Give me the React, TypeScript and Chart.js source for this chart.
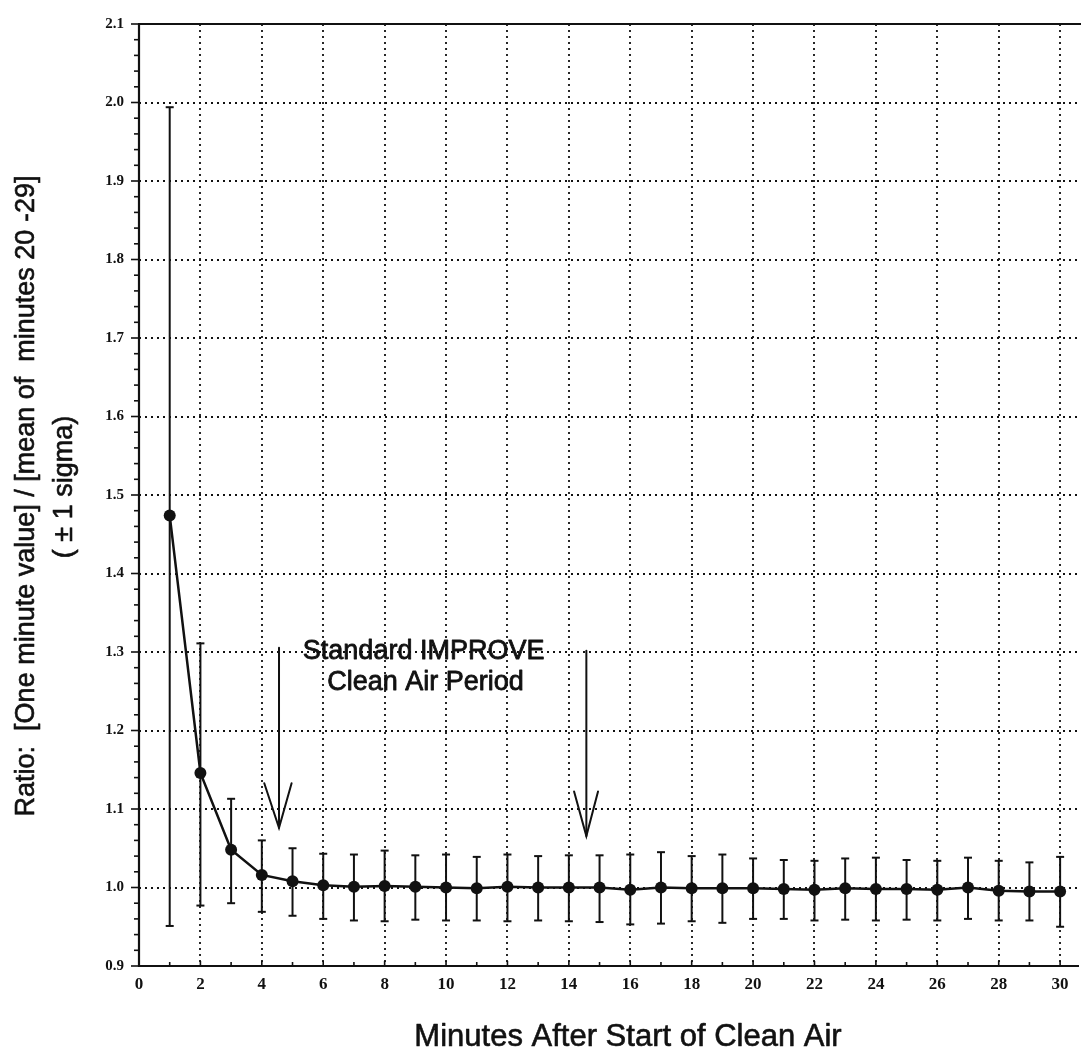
import React, { useEffect, useRef } from 'react';
import { Chart, registerables } from 'chart.js';

Chart.register(...registerables);

// ---------- data ----------
const minutes = [1, 2, 3, 4, 5, 6, 7, 8, 9, 10, 11, 12, 13, 14, 15, 16, 17, 18, 19, 20, 21, 22, 23, 24, 25, 26, 27, 28, 29, 30];
const ratioMean = [1.474, 1.146, 1.048, 1.016, 1.008, 1.003, 1.001, 1.002, 1.001, 1.0, 0.999, 1.001, 1.0, 1.0, 1.0, 0.997, 1.0, 0.999, 0.999, 0.999, 0.998, 0.997, 0.999, 0.998, 0.998, 0.997, 1.0, 0.996, 0.995, 0.995];
const sigmaUpper = [1.994, 1.311, 1.113, 1.06, 1.05, 1.043, 1.042, 1.047, 1.041, 1.042, 1.039, 1.042, 1.04, 1.041, 1.041, 1.042, 1.045, 1.04, 1.042, 1.037, 1.035, 1.034, 1.037, 1.038, 1.035, 1.034, 1.038, 1.034, 1.032, 1.039];
const sigmaLower = [0.951, 0.977, 0.98, 0.969, 0.964, 0.96, 0.958, 0.957, 0.959, 0.958, 0.958, 0.957, 0.958, 0.957, 0.956, 0.953, 0.954, 0.957, 0.955, 0.96, 0.96, 0.958, 0.959, 0.958, 0.959, 0.958, 0.96, 0.958, 0.958, 0.95];

const xTickValues = [0, 2, 4, 6, 8, 10, 12, 14, 16, 18, 20, 22, 24, 26, 28, 30];
const yTickValues = [0.9, 1.0, 1.1, 1.2, 1.3, 1.4, 1.5, 1.6, 1.7, 1.8, 1.9, 2.0, 2.1];

const xTitle = 'Minutes After Start of Clean Air';
const yTitleLines = ['Ratio:  [One minute value] / [mean of  minutes 20 -29]', '( \u00B1 1 sigma)'];
const noteLines = ['Standard IMPROVE', 'Clean Air Period'];

// annotation geometry (data coordinates)
const arrows = [
  { x: 4.56, top: 1.3055, tip: 1.076, wingY: 1.1328, wingL: 4.08, wingR: 4.97 },
  { x: 14.57, top: 1.3017, tip: 1.0655, wingY: 1.1223, wingL: 14.17, wingR: 14.95 },
];
const notePos = [
  { x: 9.27, y: 1.2907 },
  { x: 9.33, y: 1.2512 },
];

const X_MIN = 0;
const X_MAX = 30.68;
const Y_MIN = 0.9;
const Y_MAX = 2.1;

const INK = '#111111';
const SANS = '"Liberation Sans", Arial, Helvetica, sans-serif';
const SERIF = '"Liberation Serif", "Times New Roman", Times, serif';

const heavyText = (ctx: any, t: string, px: number, py: number) => {
  ctx.fillText(t, px, py);
  ctx.strokeText(t, px, py);
};

const paperPlugin = {
  id: 'paperPlugin',
  beforeDatasetsDraw(chart: any) {
    const { ctx, chartArea: a, scales } = chart;
    const x = scales.x;
    const y = scales.y;
    const seg = (x1: number, y1: number, x2: number, y2: number) => {
      ctx.beginPath();
      ctx.moveTo(x1, y1);
      ctx.lineTo(x2, y2);
      ctx.stroke();
    };
    ctx.save();
    // dotted grid
    ctx.strokeStyle = INK;
    ctx.lineWidth = 1.8;
    ctx.setLineDash([2, 4]);
    for (const v of yTickValues) {
      if (v <= Y_MIN + 1e-9 || v >= Y_MAX - 1e-9) continue;
      const py = Math.round(y.getPixelForValue(v));
      seg(a.left, py, a.right, py);
    }
    for (const v of xTickValues) {
      if (v <= X_MIN) continue;
      const px = Math.round(x.getPixelForValue(v));
      seg(px, a.top, px, a.bottom);
    }
    ctx.setLineDash([]);
    // axes
    ctx.lineWidth = 2.2;
    seg(a.left, a.top, a.left, a.bottom + 1);
    seg(a.left - 1, a.bottom, a.right - 2, a.bottom);
    seg(a.left - 1, a.top, a.right, a.top);
    // y ticks
    ctx.lineWidth = 1.6;
    for (let i = 0; i < yTickValues.length; i++) {
      const py = y.getPixelForValue(yTickValues[i]);
      seg(a.left - 8, py, a.left, py);
      if (i < yTickValues.length - 1) {
        const step = (yTickValues[i + 1] - yTickValues[i]) / 5;
        for (let k = 1; k < 5; k++) {
          const pm = y.getPixelForValue(yTickValues[i] + k * step);
          seg(a.left - 5, pm, a.left, pm);
        }
      }
    }
    // x ticks
    for (let i = 0; i < xTickValues.length; i++) {
      const px = x.getPixelForValue(xTickValues[i]);
      seg(px, a.bottom, px, a.bottom - 5);
      if (i < xTickValues.length - 1) {
        const pm = x.getPixelForValue((xTickValues[i] + xTickValues[i + 1]) / 2);
        seg(pm, a.bottom, pm, a.bottom - 4);
      }
    }
    // error bars
    ctx.lineWidth = 2;
    ctx.strokeStyle = INK;
    minutes.forEach((m, i) => {
      const px = x.getPixelForValue(m);
      const pt = y.getPixelForValue(sigmaUpper[i]);
      const pb = y.getPixelForValue(sigmaLower[i]);
      seg(px, pt, px, pb);
      seg(px - 4, pt, px + 4, pt);
      seg(px - 4, pb, px + 4, pb);
    });
    ctx.restore();
  },
  afterDatasetsDraw(chart: any) {
    const { ctx, scales } = chart;
    const x = scales.x;
    const y = scales.y;
    ctx.save();
    ctx.strokeStyle = INK;
    ctx.lineWidth = 2;
    ctx.lineCap = 'round';
    for (const ar of arrows) {
      const px = x.getPixelForValue(ar.x);
      const tipY = y.getPixelForValue(ar.tip);
      ctx.beginPath();
      ctx.moveTo(px, y.getPixelForValue(ar.top));
      ctx.lineTo(px, tipY);
      ctx.stroke();
      ctx.beginPath();
      ctx.moveTo(x.getPixelForValue(ar.wingL), y.getPixelForValue(ar.wingY));
      ctx.lineTo(px, tipY);
      ctx.lineTo(x.getPixelForValue(ar.wingR), y.getPixelForValue(ar.wingY));
      ctx.stroke();
    }
    ctx.fillStyle = INK;
    ctx.lineWidth = 0.8;
    ctx.lineJoin = 'round';
    ctx.font = `27px ${SANS}`;
    ctx.textAlign = 'center';
    ctx.textBaseline = 'alphabetic';
    noteLines.forEach((t, i) => {
      heavyText(ctx, t, x.getPixelForValue(notePos[i].x), y.getPixelForValue(notePos[i].y));
    });
    ctx.restore();
  },
  afterDraw(chart: any) {
    const { ctx } = chart;
    ctx.save();
    ctx.fillStyle = INK;
    ctx.strokeStyle = INK;
    ctx.lineWidth = 0.6;
    ctx.lineJoin = 'round';
    ctx.font = `31px ${SANS}`;
    ctx.textAlign = 'center';
    ctx.textBaseline = 'alphabetic';
    heavyText(ctx, xTitle, 628, 1046);
    ctx.font = `27px ${SANS}`;
    ctx.textBaseline = 'middle';
    const centers = [
      { cx: 27, cy: 496 },
      { cx: 65, cy: 487 },
    ];
    yTitleLines.forEach((t, i) => {
      ctx.save();
      ctx.translate(centers[i].cx, centers[i].cy);
      ctx.rotate(-Math.PI / 2);
      heavyText(ctx, t, 0, 0);
      ctx.restore();
    });
    ctx.restore();
  },
};

export default function App() {
  const canvasRef = useRef<HTMLCanvasElement | null>(null);

  useEffect(() => {
    const canvas = canvasRef.current;
    if (!canvas) return;
    const chart = new Chart(canvas, {
      type: 'line',
      data: {
        datasets: [
          {
            label: 'Ratio',
            data: minutes.map((m, i) => ({ x: m, y: ratioMean[i] })),
            borderColor: INK,
            backgroundColor: INK,
            borderWidth: 2.5,
            pointRadius: 6,
            pointBackgroundColor: INK,
            pointBorderColor: INK,
            pointBorderWidth: 0,
            tension: 0,
            fill: false,
            clip: false as any,
          },
        ],
      },
      options: {
        responsive: false,
        animation: false,
        events: [],
        layout: { padding: { top: 16, left: 0, right: 0, bottom: 0 } },
        plugins: {
          legend: { display: false },
          tooltip: { enabled: false },
          title: { display: false },
        },
        scales: {
          x: {
            type: 'linear',
            min: X_MIN,
            max: X_MAX,
            grid: { display: false, drawTicks: false },
            border: { display: false },
            afterBuildTicks: (s: any) => {
              s.ticks = xTickValues.map((v) => ({ value: v }));
            },
            afterFit: (s: any) => {
              s.height = 91;
            },
            ticks: {
              autoSkip: false,
              maxRotation: 0,
              padding: 8,
              color: INK,
              font: { family: SERIF, size: 17, weight: 'bold' },
              callback: (v: any) => String(v),
            },
          },
          y: {
            type: 'linear',
            min: Y_MIN,
            max: Y_MAX,
            grid: { display: false, drawTicks: false },
            border: { display: false },
            afterBuildTicks: (s: any) => {
              s.ticks = yTickValues.map((v) => ({ value: v }));
            },
            afterFit: (s: any) => {
              s.width = 139;
            },
            ticks: {
              autoSkip: false,
              padding: 15,
              color: INK,
              font: { family: SERIF, size: 15, weight: 'bold' },
              callback: (v: any) => Number(v).toFixed(1),
            },
          },
        },
      },
      plugins: [paperPlugin],
    });
    return () => chart.destroy();
  }, []);

  return (
    <div style={{ position: 'absolute', left: 0, top: 0, width: 1087, height: 1057, background: '#fff' }}>
      <canvas ref={canvasRef} width={1087} height={1057} style={{ display: 'block', width: 1087, height: 1057 }} />
    </div>
  );
}
